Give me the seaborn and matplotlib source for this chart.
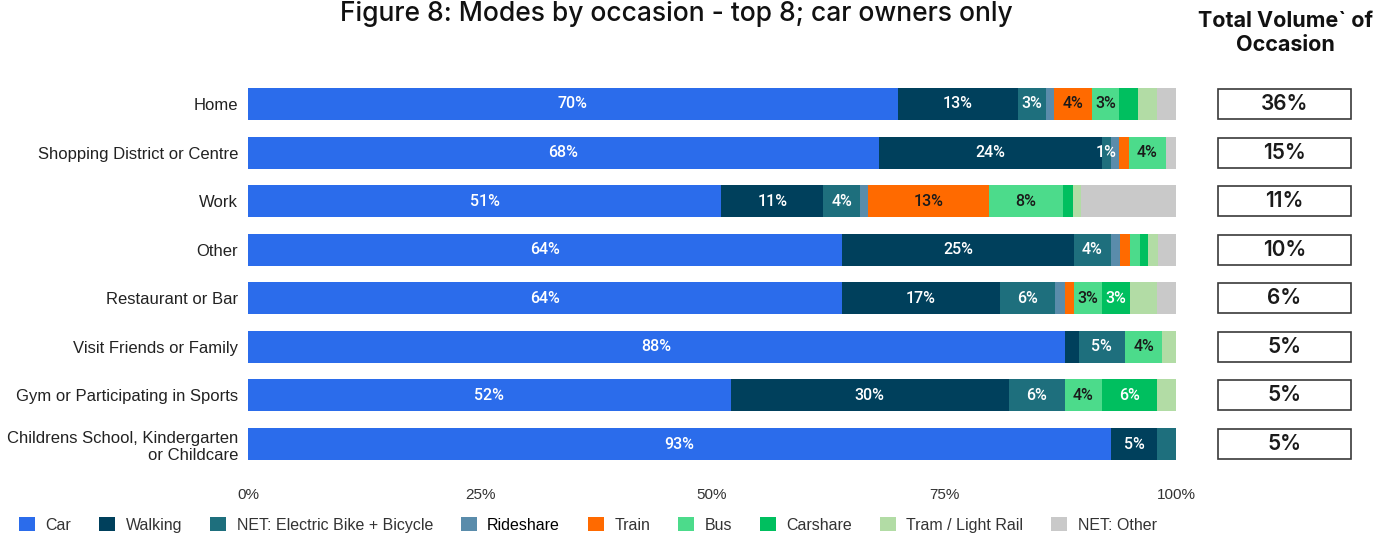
import matplotlib
matplotlib.use("Agg")
import matplotlib.pyplot as plt
from matplotlib.patches import Patch
import numpy as np
import pandas as pd
import seaborn as sns

# ---- data -------------------------------------------------------------
occasions = [
    "Home",
    "Shopping District or Centre",
    "Work",
    "Other",
    "Restaurant or Bar",
    "Visit Friends or Family",
    "Gym or Participating in Sports",
    "Childrens School, Kindergarten\nor Childcare",
]
modes = ["Car", "Walking", "NET: Electric Bike + Bicycle", "Rideshare", "Train",
         "Bus", "Carshare", "Tram / Light Rail", "NET: Other"]

car       = [70, 68, 51, 64, 64, 88, 52, 93]
walking   = [13, 24, 11, 25, 17, 1.5, 30, 5]
ebike     = [3, 1, 4, 4, 6, 5, 6, 2]
rideshare = [0.9, 0.9, 0.8, 1, 1, 0, 0, 0]
train     = [4, 1, 13, 1, 1, 0, 0, 0]
bus       = [3, 4, 8, 1.1, 3, 4, 4, 0]
carshare  = [2, 0, 1.1, 0.9, 3, 0, 6, 0]
tram      = [2, 0, 0.9, 1.1, 3, 1.5, 2, 0]
net_other = [2.1, 1.1, 10.2, 1.9, 2, 0, 0, 0]

total_volume = ["36%", "15%", "11%", "10%", "6%", "5%", "5%", "5%"]

series = [car, walking, ebike, rideshare, train, bus, carshare, tram, net_other]
colors = ["#2B6CEB", "#00405C", "#1E6F7D", "#5A8CAB", "#FF6A00",
          "#4CDB8B", "#00BF5F", "#B2DCA5", "#C9C9C9"]
label_colors = ["white", "white", "white", "white", "#1a1a1a",
                "#1a1a1a", "white", "#1a1a1a", "#1a1a1a"]
# which modes carry value labels
labelled_modes = {"Car", "Walking", "NET: Electric Bike + Bicycle", "Train", "Bus", "Carshare"}
# a small segment that still carries its value label
extra_labels = {("Shopping District or Centre", "NET: Electric Bike + Bicycle")}

df = pd.DataFrame({"occasion": occasions})
for m, vals in zip(modes, series):
    df[m] = vals
cum = df[modes].cumsum(axis=1)

# ---- figure -----------------------------------------------------------
sns.set_theme(style="white")
plt.rcParams["font.family"] = ["Liberation Sans", "DejaVu Sans"]

W, H = 1393, 540
fig = plt.figure(figsize=(W / 100, H / 100), dpi=100)
left, right = 248 / W, 1176 / W
top, bottom = 1 - 79.7 / H, 1 - 468.3 / H
ax = fig.add_axes([left, bottom, right - left, top - bottom])

# stacked bars: draw cumulative totals from the last mode backwards
for i in reversed(range(len(modes))):
    tmp = pd.DataFrame({"occasion": occasions, "x": cum[modes[i]]})
    sns.barplot(data=tmp, y="occasion", x="x", order=occasions, orient="h",
                color=colors[i], saturation=1, width=0.66, linewidth=0, ax=ax)

for i, m in enumerate(modes):
    for j, occ in enumerate(occasions):
        v = df.loc[j, m]
        if (m in labelled_modes and v >= 3) or (occ, m) in extra_labels:
            ax.text(cum.loc[j, m] - v / 2, j, f"{v:.0f}%", ha="center", va="center",
                    fontsize=11.5, color=label_colors[i], family="Roboto",
                    fontweight="medium")

ax.set_xlim(0, 100)
ax.set_ylim(len(occasions) - 0.5, -0.5)
ax.set_xticks([0, 25, 50, 75, 100])
ax.set_xticklabels(["0%", "25%", "50%", "75%", "100%"], fontsize=11, color="#333333")
ax.tick_params(axis="x", length=0, pad=14)
ax.tick_params(axis="y", length=0, pad=7, labelsize=12, labelcolor="#222222")
ax.set_xlabel("")
ax.set_ylabel("")
sns.despine(ax=ax, left=True, bottom=True)

# total volume boxes
bx = fig.add_axes([1218 / W, bottom, (1351 - 1218) / W, top - bottom], sharey=ax)
sns.barplot(x=[1] * len(occasions), y=occasions, order=occasions, orient="h",
            color="white", saturation=1, width=0.62, edgecolor="#3a3a3a",
            linewidth=1.2, ax=bx)
for p in bx.patches:
    p.set_clip_on(False)
for j, t in enumerate(total_volume):
    bx.text(0.5, j, t, ha="center", va="center", fontsize=15,
            fontweight="semibold", family="Inter", color="#1a1a1a")
bx.set_xlim(0, 1)
bx.axis("off")

# titles
fig.text(676 / W, 1 - 14 / H, "Figure 8: Modes by occasion - top 8; car owners only",
         ha="center", va="center", fontsize=19, family="Inter", fontweight="medium",
         color="#111111")
fig.text(1285 / W, 1 - 33 / H, "Total Volume` of\nOccasion", ha="center", va="center",
         fontsize=15.5, family="Inter", fontweight="bold", color="#111111",
         linespacing=1.3)

# legend
handles = [Patch(facecolor=c, edgecolor="none") for c in colors]
leg = fig.legend(handles, modes, loc="center", bbox_to_anchor=(588 / W, 1 - 525 / H),
                 ncol=len(modes), frameon=False, fontsize=11.5, handlelength=1.0,
                 handleheight=1.0, handletextpad=0.65, columnspacing=1.75)
for t in leg.get_texts():
    t.set_color("#333333")
leg.get_texts()[3].set_color("#000000")

fig.savefig("out.png", dpi=100)
